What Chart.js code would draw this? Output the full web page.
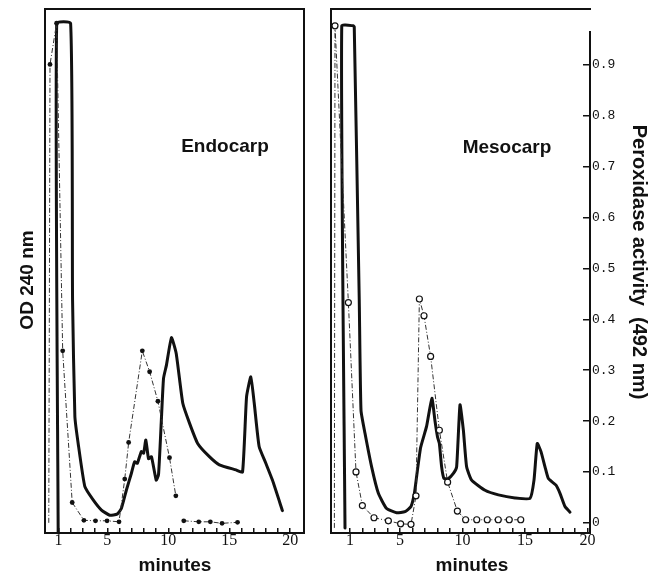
<!DOCTYPE html>
<html>
<head>
<meta charset="utf-8">
<script src="https://cdn.jsdelivr.net/npm/chart.js@4.4.1/dist/chart.umd.min.js"></script>
<style>
  body { margin: 0; background: #fff; }
  #wrap { position: relative; width: 660px; height: 575px; }
  canvas { position: absolute; left: 0; top: 0; }
</style>
</head>
<body>
<div id="wrap">
  <canvas id="endo" width="660" height="575"></canvas>
  <canvas id="meso" width="660" height="575"></canvas>
</div>
<script>
// axis ticks
const minuteTicks = [1, 2, 3, 4, 5, 6, 7, 8, 9, 10, 11, 12, 13, 14, 15, 16, 17, 18, 19, 20];
const minuteLabels = [1, 5, 10, 15, 20];
const perTickValues = [0, 0.1, 0.2, 0.3, 0.4, 0.5, 0.6, 0.7, 0.8, 0.9];
const perTickLabels = ['0', '0.1', '0.2', '0.3', '0.4', '0.5', '0.6', '0.7', '0.8', '0.9'];

// Endocarp - OD 240 nm (trazo grueso)
const endoOdMin = [0.97, 0.85, 1.99, 2.15, 2.34, 2.61, 3.16, 3.84, 4.52, 5.2, 5.8, 6.15, 6.56, 6.97, 7.24, 7.46, 7.79, 7.98, 8.16, 8.38, 8.62, 9.01, 9.2, 9.42, 9.61, 9.85, 10.26, 10.65, 11.19, 11.74, 12.41, 13.37, 14.19, 15.55, 16.09, 16.42, 16.77, 17.05, 17.45, 18.0, 18.54, 19.36];
const endoOd    = [-0.02, 0.982, 0.982, 0.438, 0.209, 0.156, 0.071, 0.045, 0.025, 0.015, 0.017, 0.028, 0.064, 0.097, 0.12, 0.117, 0.14, 0.137, 0.163, 0.126, 0.13, 0.084, 0.095, 0.196, 0.284, 0.31, 0.364, 0.333, 0.235, 0.196, 0.156, 0.13, 0.114, 0.104, 0.1, 0.248, 0.287, 0.235, 0.15, 0.117, 0.084, 0.024];

// Endocarp - peroxidasa (puntos negros)
const endoPerMin = [0.2, 0.3, 0.84, 1.34, 2.12, 3.08, 4.03, 4.98, 5.96, 6.43, 6.75, 7.87, 8.47, 9.15, 10.1, 10.62, 10.9, 11.27, 12.5, 13.45, 14.41, 15.68];
const endoPer    = [0, 0.901, 0.982, 0.338, 0.04, 0.005, 0.004, 0.004, 0.002, 0.086, 0.158, 0.338, 0.297, 0.239, 0.128, 0.053, null, 0.004, 0.002, 0.002, -0.001, 0.001];

// Mesocarp - OD 240 nm
const mesoOdMin = [0.6, 0.34, 1.26, 1.34, 1.74, 1.88, 2.2, 2.73, 3.27, 3.93, 4.73, 5.4, 5.88, 6.15, 6.33, 6.65, 7.13, 7.55, 7.8, 8.0, 8.15, 8.33, 8.52, 8.87, 9.27, 9.53, 9.8, 10.07, 10.33, 10.73, 11.8, 12.87, 14.2, 15.4, 15.72, 15.98, 16.28, 16.6, 16.87, 17.48, 17.8, 18.2, 18.6];
const mesoOd    = [-0.01, 0.977, 0.977, 0.975, 0.438, 0.221, 0.176, 0.11, 0.058, 0.028, 0.02, 0.022, 0.032, 0.058, 0.091, 0.148, 0.19, 0.245, 0.2, 0.169, 0.156, 0.11, 0.087, 0.087, 0.097, 0.11, 0.232, 0.182, 0.11, 0.084, 0.064, 0.055, 0.049, 0.048, 0.084, 0.156, 0.14, 0.11, 0.087, 0.074, 0.058, 0.032, 0.021];

// Mesocarp - peroxidasa (circulos)
const mesoPerMin = [-0.25, -0.2, 0.87, 1.48, 1.99, 2.92, 4.07, 5.05, 5.88, 6.28, 6.55, 6.92, 7.45, 8.15, 8.81, 9.59, 10.25, 11.14, 11.98, 12.86, 13.74, 14.66];
const mesoPer    = [-0.01, 0.977, 0.433, 0.1, 0.034, 0.01, 0.004, -0.002, -0.003, 0.053, 0.44, 0.407, 0.327, 0.182, 0.08, 0.023, 0.006, 0.006, 0.006, 0.006, 0.006, 0.006];

const toPoints = (xs, ys) => xs.map((x, i) => ({ x: x, y: ys[i] }));

const INK = '#111';

// sin relleno extra de las escalas: el area del grafico la fija el layout
const noScalePadding = s => {
  s.paddingTop = 0;
  s.paddingBottom = 0;
  s.paddingLeft = 0;
  s.paddingRight = 0;
};

// marco + textos
const framePlugin = {
  id: 'frame',
  afterDraw(chart, args, opts) {
    const { ctx, chartArea: a } = chart;
    const rightTop = opts.rightFrom != null ? chart.scales.y.getPixelForValue(opts.rightFrom) : a.top;
    ctx.save();
    ctx.strokeStyle = INK;
    ctx.lineWidth = 2;
    ctx.lineCap = 'square';
    ctx.beginPath();
    ctx.moveTo(a.right, rightTop);
    ctx.lineTo(a.right, a.bottom);
    ctx.lineTo(a.left, a.bottom);
    ctx.lineTo(a.left, a.top);
    ctx.lineTo(a.right, a.top);
    ctx.stroke();

    ctx.fillStyle = INK;
    ctx.textAlign = 'center';
    ctx.textBaseline = 'alphabetic';
    (opts.texts || []).forEach(t => {
      ctx.save();
      ctx.font = 'bold ' + t.size + 'px "Liberation Sans", Arial, sans-serif';
      ctx.translate(t.x, t.y);
      if (t.rot) ctx.rotate(t.rot);
      ctx.fillText(t.text, 0, 0);
      ctx.restore();
    });
    ctx.restore();
  }
};

const xAxis = (min, max) => ({
  type: 'linear',
  min: min,
  max: max,
  afterBuildTicks: s => { s.ticks = minuteTicks.map(v => ({ value: v })); },
  afterFit: s => { s.height = 42; noScalePadding(s); },
  border: { display: false },
  grid: { drawOnChartArea: false, tickLength: -5, color: INK, lineWidth: 1.5 },
  ticks: {
    padding: 3,
    color: INK,
    autoSkip: false,
    maxRotation: 0,
    font: { family: 'Liberation Serif', size: 16 },
    callback: v => minuteLabels.includes(v) ? String(v) : ''
  }
});

const odDataset = (xs, ys) => ({
  data: toPoints(xs, ys),
  borderColor: INK,
  borderWidth: 3,
  pointRadius: 0,
  tension: 0.15,
  borderJoinStyle: 'round',
  borderCapStyle: 'round'
});

const perDataset = (xs, ys, open) => ({
  data: toPoints(xs, ys),
  borderColor: '#333',
  borderWidth: 1,
  borderDash: [5, 2, 1, 2],
  tension: 0,
  pointRadius: c => c.dataIndex === 0 ? 0 : (open ? 3 : 2.4),
  pointBackgroundColor: open ? '#fff' : INK,
  pointBorderColor: INK,
  pointBorderWidth: open ? 1.2 : 0
});

const baseOptions = {
  responsive: false,
  animation: false,
  events: [],
  plugins: { legend: { display: false }, tooltip: { enabled: false } }
};

// Panel izquierdo: Endocarp
new Chart(document.getElementById('endo'), {
  type: 'line',
  data: {
    datasets: [
      perDataset(endoPerMin, endoPer, false),
      odDataset(endoOdMin, endoOd)
    ]
  },
  options: {
    ...baseOptions,
    layout: { padding: { left: 45, top: 9, right: 356, bottom: 0 } },
    scales: {
      x: xAxis(-0.11, 21.13),
      y: { type: 'linear', display: false, min: -0.02, max: 1.01 }
    },
    plugins: {
      ...baseOptions.plugins,
      frame: {
        texts: [
          { text: 'Endocarp', x: 225, y: 152, size: 19 },
          { text: 'minutes', x: 175, y: 571, size: 19 },
          { text: 'OD 240 nm', x: 33, y: 280, size: 19, rot: -Math.PI / 2 }
        ]
      }
    }
  },
  plugins: [framePlugin]
});

// Panel derecho: Mesocarp
new Chart(document.getElementById('meso'), {
  type: 'line',
  data: {
    datasets: [
      perDataset(mesoPerMin, mesoPer, true),
      odDataset(mesoOdMin, mesoOd)
    ]
  },
  options: {
    ...baseOptions,
    layout: { padding: { left: 331, top: 9, right: 0, bottom: 0 } },
    scales: {
      x: xAxis(-0.52, 20.2),
      y: {
        type: 'linear',
        position: 'right',
        min: -0.02,
        max: 1.01,
        afterBuildTicks: s => { s.ticks = perTickValues.map(v => ({ value: v })); },
        afterFit: s => { s.width = 70; noScalePadding(s); },
        border: { display: false },
        grid: { drawOnChartArea: false, tickLength: -7, color: INK, lineWidth: 1.5 },
        ticks: {
          padding: 9,
          color: INK,
          font: { family: 'Liberation Mono', size: 13 },
          callback: (v, i) => perTickLabels[i]
        }
      }
    },
    plugins: {
      ...baseOptions.plugins,
      frame: {
        rightFrom: 0.965,
        texts: [
          { text: 'Mesocarp', x: 507, y: 153, size: 19 },
          { text: 'minutes', x: 472, y: 571, size: 19 },
          { text: 'Peroxidase activity  (492 nm)', x: 633, y: 262, size: 20, rot: Math.PI / 2 }
        ]
      }
    }
  },
  plugins: [framePlugin]
});
</script>
</body>
</html>
